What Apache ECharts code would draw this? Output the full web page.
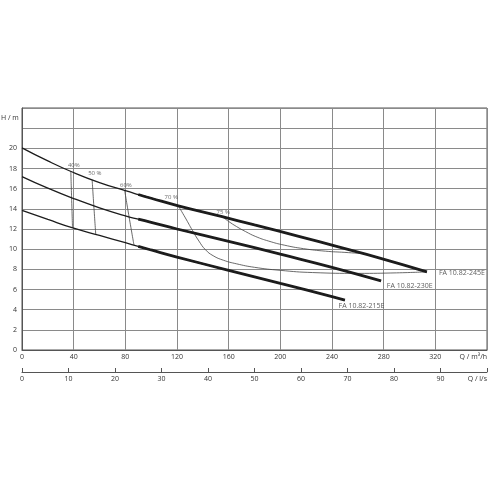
<!DOCTYPE html>
<html><head><meta charset="utf-8">
<script src="https://cdn.jsdelivr.net/npm/echarts@6/dist/echarts.min.js"></script>
<style>html,body{margin:0;padding:0;background:#fff}#c{width:490px;height:490px}</style>
</head><body><div id="c"></div>
<script>
// ---- data (Q in m3/h, H in m) ----
const pumpNames = ['FA 10.82-245E', 'FA 10.82-230E', 'FA 10.82-215E'];
const curve245 = [[0,20.05],[20,18.75],[38,17.7],[60,16.6],[80,15.8],[90,15.42],[100,15.05],[121,14.3],[155,13.22],[180,12.4],[215,11.25],[245,10.22],[277,9.12],[313.5,7.75]];
const curve230 = [[0,17.2],[20,16.05],[40,15.02],[60,14.1],[80,13.3],[90,12.97],[100,12.66],[120,12.0],[160,10.78],[200,9.5],[240,8.2],[278,6.85]];
const curve215 = [[0,13.85],[20,12.95],[40,12.08],[60,11.36],[80,10.64],[90,10.28],[100,9.92],[120,9.22],[160,7.9],[200,6.6],[240,5.3],[250,4.95]];
const thickFromQ = [90, 90, 90];

const effNames = ['40%', '50 %', '60%', '70 %', '75 %'];
const eff40 = [[37.8,17.71],[38.4,15.1],[39.1,12.12]];
const eff50 = [[54.3,16.88],[55.6,14.3],[57.1,11.46]];
const eff60 = [[79.5,15.82],[82.9,13.2],[86.7,10.4]];
const eff70 = [[121,14.3],[126.5,13.1],[132,11.85],[137,10.8],[142,9.95],[148,9.35],[156,8.9],[166,8.55],[180,8.2],[200,7.9],[225,7.68],[260,7.6],[290,7.65],[313.5,7.75]];
const eff75 = [[155,13.22],[160,12.75],[166,12.25],[173,11.75],[181,11.25],[191,10.8],[203,10.4],[218,10.05],[235,9.8],[250,9.68],[264,9.56]];

const yTicksShownMax = 20;
const xAxisName = 'Q / m³/h';
const x2AxisName = 'Q / l/s';
const yAxisName = 'H / m';

// ---- styling / build ----
const FONT = '"Open Sans", "Noto Sans", sans-serif';
const TXT = '#333';
const LINE = '#1c1c1c';

function lineSeries(data, width, color, smooth) {
  return { type: 'line', data: data, xAxisIndex: 0, yAxisIndex: 0, symbol: 'none', smooth: smooth,
    lineStyle: { color: color, width: width }, silent: true, animation: false, z: 3 };
}

const pumpCurves = [curve245, curve230, curve215];
const effCurves = [eff40, eff50, eff60, eff70, eff75];

const series = [];
effCurves.forEach(c => series.push(lineSeries(c, 0.8, '#444', 0.5)));
pumpCurves.forEach(c => series.push(lineSeries(c, 1.3, LINE, 0.5)));
pumpCurves.forEach((c, i) => series.push(lineSeries(c.filter(p => p[0] >= thickFromQ[i]), 2.8, LINE, 0.5)));

const effOffsets = [[3,-6.4],[2.7,-6],[1.2,-5],[-7,-8.7],[1,-4.7]];
series.push({
  type: 'scatter', symbolSize: 0, silent: true, animation: false, z: 5,
  data: effCurves.map((c, i) => ({ value: c[0], name: effNames[i], label: { offset: effOffsets[i] } })),
  label: { show: true, position: 'inside', formatter: '{b}', fontSize: 6, fontFamily: FONT, color: '#444', align: 'center', verticalAlign: 'middle' }
});
const pumpOffsets = [[12,1],[5.7,4.8],[-6.3,6.3]];
series.push({
  type: 'scatter', symbolSize: 0, silent: true, animation: false, z: 5,
  data: pumpCurves.map((c, i) => ({ value: c[c.length - 1], name: pumpNames[i], label: { offset: pumpOffsets[i] } })),
  label: { show: true, position: 'inside', formatter: '{b}', fontSize: 7, fontFamily: FONT, color: TXT, align: 'left', verticalAlign: 'middle' }
});

const option = {
  animation: false,
  backgroundColor: '#fff',
  grid: { left: 22, right: 1, top: 108, bottom: 140, show: true, borderColor: '#555', borderWidth: 1, containLabel: false },
  xAxis: [
    { type: 'value', min: 0, max: 360, interval: 40, position: 'bottom',
      axisLine: { show: true, lineStyle: { color: '#555', width: 1 } },
      axisTick: { show: false },
      splitLine: { show: true, lineStyle: { color: '#8a8a8a', width: 1 } },
      axisLabel: { fontSize: 7, fontFamily: FONT, color: TXT, margin: 3, showMaxLabel: true, alignMaxLabel: 'right',
        formatter: v => v === 360 ? xAxisName : String(v) } },
    { type: 'value', min: 0, max: 100, interval: 10, position: 'bottom', offset: 22,
      axisLine: { show: true, lineStyle: { color: '#555', width: 1 } },
      axisTick: { show: true, inside: true, length: 4, lineStyle: { color: '#555' } },
      splitLine: { show: false },
      axisLabel: { fontSize: 7, fontFamily: FONT, color: TXT, margin: 3, showMaxLabel: true, alignMaxLabel: 'right',
        formatter: v => v === 100 ? x2AxisName : String(v) } }
  ],
  yAxis: { type: 'value', min: 0, max: 24, interval: 2,
    axisLine: { show: true, lineStyle: { color: '#555', width: 1 } },
    axisTick: { show: false },
    splitLine: { show: true, lineStyle: { color: '#8a8a8a', width: 1 } },
    axisLabel: { fontSize: 7, fontFamily: FONT, color: TXT, margin: 5,
      formatter: v => v > yTicksShownMax ? '' : String(v) } },
  graphic: [{ type: 'text', left: 1, top: 114, style: { text: yAxisName, fontSize: 7, fontFamily: FONT, fill: TXT } }],
  series: series
};
const chart = echarts.init(document.getElementById('c'), null, { renderer: 'canvas' });
chart.setOption(option);
</script></body></html>
